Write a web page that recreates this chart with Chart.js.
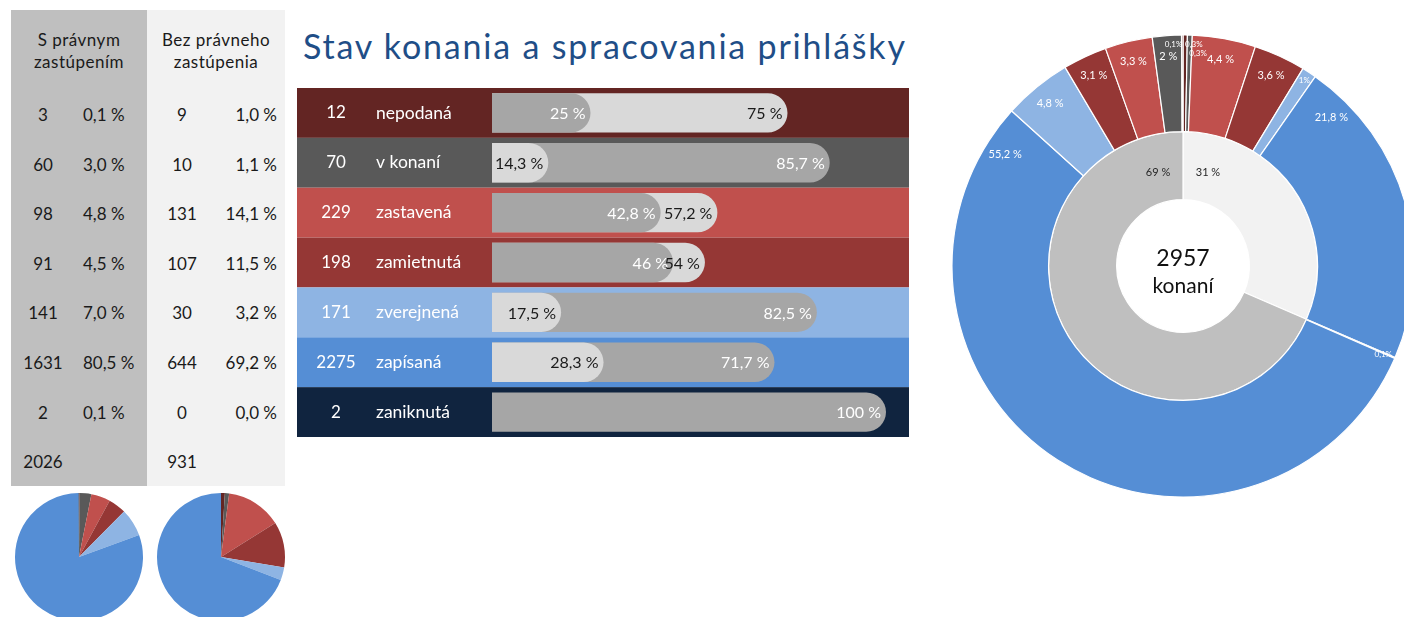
<!DOCTYPE html>
<html lang="sk">
<head>
<meta charset="utf-8">
<title>Stav konania a spracovania prihlášky</title>
<script src="https://cdn.jsdelivr.net/npm/chart.js@4.4.1/dist/chart.umd.min.js"></script>
<style>
  html, body { margin: 0; padding: 0; background: #fff; overflow: hidden; }
  body { position: relative; width: 1404px; height: 617px; font-family: Lato, "Noto Sans", sans-serif; }
  .abs { position: absolute; }
  #tbl { left: 11px; top: 10px; width: 274px; height: 476px; }
  .col { position: absolute; top: 0; height: 476px; }
  #colS { left: 0; width: 136px; background: #BFBFBF; }
  #colB { left: 136px; width: 138px; background: #F2F2F2; }
  .hd { position: absolute; top: 19px; width: 100%; text-align: center; font-size: 17px; letter-spacing: 0.5px; line-height: 22px; color: #1a1a1a; }
  .cell { position: absolute; font-size: 17px; line-height: 20px; color: #1a1a1a; white-space: nowrap; }
  #title { left: 303px; top: 26px; font-size: 34px; letter-spacing: 1.8px; line-height: 40px; color: #1F4E87; white-space: nowrap; }
</style>
</head>
<body>
<div id="tbl" class="abs">
  <div id="colS" class="col"><div class="hd">S právnym<br>zastúpením</div></div>
  <div id="colB" class="col"><div class="hd">Bez právneho<br>zastúpenia</div></div>
</div>
<div id="title" class="abs">Stav konania a spracovania prihlášky</div>
<canvas id="bars" class="abs" width="612" height="349" style="left:297px;top:88px"></canvas>
<canvas id="ring" class="abs" width="464" height="464" style="left:951px;top:34px"></canvas>
<canvas id="pieS" class="abs" width="130" height="130" style="left:14px;top:492px"></canvas>
<canvas id="pieB" class="abs" width="130" height="130" style="left:156px;top:492px"></canvas>

<script>
const statuses = ['nepodaná', 'v konaní', 'zastavená', 'zamietnutá', 'zverejnená', 'zapísaná', 'zaniknutá'];
const withLawyer = [3, 60, 98, 91, 141, 1631, 2];
const withoutLawyer = [9, 10, 131, 107, 30, 644, 0];
const statusColors = ['#632523', '#595959', '#C0504D', '#953735', '#8EB4E3', '#558ED5', '#10243F'];

const GRAY = '#A6A6A6';
const LIGHT = '#D9D9D9';
const FONT = 'Lato, "Noto Sans", sans-serif';

Chart.defaults.font.family = FONT;
Chart.defaults.animation = false;

const sum = a => a.reduce((x, y) => x + y, 0);

// comma decimals; trimmed drops ",0"
function pct(v, dec, trimmed) {
  let s = v.toFixed(dec).replace('.', ',');
  if (trimmed && s.endsWith(',0')) s = s.slice(0, -2);
  return s;
}

// ---- table ----
const totS = sum(withLawyer), totB = sum(withoutLawyer);
function addCell(parent, text, y, css) {
  const d = document.createElement('div');
  d.className = 'cell';
  d.textContent = text;
  d.style.top = (y - 10) + 'px';
  Object.assign(d.style, css);
  parent.appendChild(d);
}
const colS = document.getElementById('colS');
const colB = document.getElementById('colB');
for (let i = 0; i <= statuses.length; i++) {
  const y = 105 + i * 49.6;
  const last = i === statuses.length;
  const s = last ? totS : withLawyer[i];
  const b = last ? totB : withoutLawyer[i];
  addCell(colS, s, y, {left: '0px', width: '64px', textAlign: 'center'});
  addCell(colB, b, y, {left: '0px', width: '70px', textAlign: 'center'});
  if (!last) {
    addCell(colS, pct(s / totS * 100, 1) + ' %', y, {left: '72px'});
    addCell(colB, pct(b / totB * 100, 1) + ' %', y, {right: '8px', textAlign: 'right'});
  }
}

// ---- bars: share with / without lawyer per status, smaller one in front ----
const shareS = withLawyer.map((v, i) => v / (v + withoutLawyer[i]) * 100);
const shareB = withoutLawyer.map((v, i) => v / (v + withLawyer[i]) * 100);
const frontVal = shareS.map((s, i) => Math.min(s, shareB[i]));
const backVal = shareS.map((s, i) => Math.max(s, shareB[i]));
const frontCol = shareS.map((s, i) => s < shareB[i] ? GRAY : LIGHT);
const backCol = frontCol.map(c => c === GRAY ? LIGHT : GRAY);

const rowBands = {
  id: 'rowBands',
  beforeDraw(chart) {
    const {ctx, scales: {y}} = chart;
    const band = y.height / statuses.length;
    ctx.save();
    statuses.forEach((name, i) => {
      const cy = y.getPixelForValue(i);
      ctx.fillStyle = statusColors[i];
      ctx.fillRect(0, cy - band / 2, chart.width, band);
      ctx.fillStyle = '#fff';
      ctx.textBaseline = 'middle';
      ctx.font = '17px ' + FONT;
      ctx.textAlign = 'center';
      ctx.fillText(withLawyer[i] + withoutLawyer[i], 39, cy);
      ctx.textAlign = 'left';
      ctx.font = '17.5px ' + FONT;
      ctx.fillText(name, 79, cy);
    });
    ctx.restore();
  }
};

const barLabels = {
  id: 'barLabels',
  afterDatasetsDraw(chart) {
    const ctx = chart.ctx;
    ctx.save();
    ctx.font = '16px ' + FONT;
    ctx.textAlign = 'right';
    ctx.textBaseline = 'middle';
    chart.data.datasets.forEach((ds, di) => {
      chart.getDatasetMeta(di).data.forEach((bar, i) => {
        const v = ds.data[i];
        if (!v) return;
        ctx.fillStyle = ds.backgroundColor[i] === GRAY ? '#fff' : '#1a1a1a';
        ctx.fillText(pct(v, 1, true) + ' %', bar.x - 5, bar.y + 1);
      });
    });
    ctx.restore();
  }
};

new Chart(document.getElementById('bars'), {
  type: 'bar',
  data: {
    labels: statuses,
    datasets: [
      {data: frontVal, backgroundColor: frontCol, grouped: false, borderRadius: 20, borderSkipped: 'start'},
      {data: backVal, backgroundColor: backCol, grouped: false, borderRadius: 20, borderSkipped: 'start'}
    ]
  },
  options: {
    indexAxis: 'y',
    responsive: false,
    devicePixelRatio: 1,
    barPercentage: 0.79,
    categoryPercentage: 1,
    layout: {padding: {left: 195, right: 23, top: 0, bottom: 0}},
    scales: {
      x: {display: false, min: 0, max: 100},
      y: {display: false}
    },
    plugins: {legend: {display: false}, tooltip: {enabled: false}}
  },
  plugins: [rowBands, barLabels]
});

// ---- big ring: outer = without lawyer then with lawyer (reversed), inner = totals ----
const outerVals = [], outerCols = [];
withoutLawyer.forEach((v, i) => { if (v) { outerVals.push(v); outerCols.push(statusColors[i]); } });
for (let i = withLawyer.length - 1; i >= 0; i--) {
  if (withLawyer[i]) { outerVals.push(withLawyer[i]); outerCols.push(statusColors[i]); }
}
const innerVals = [totB, totS];

const ringLabels = {
  id: 'ringLabels',
  afterDatasetsDraw(chart) {
    const ctx = chart.ctx;
    const top = -Math.PI / 2;
    const visibleRight = 1404 - chart.canvas.offsetLeft - 12;
    ctx.save();
    ctx.textBaseline = 'middle';
    chart.data.datasets.forEach((ds, di) => {
      const meta = chart.getDatasetMeta(di);
      const total = sum(ds.data);
      const outer = di === 0;
      let prevTiny = false;
      meta.data.forEach((arc, i) => {
        const p = arc.getProps(['x', 'y', 'startAngle', 'endAngle', 'innerRadius', 'outerRadius']);
        const share = ds.data[i] / total * 100;
        let a = (p.startAngle + p.endAngle) / 2;
        if (share > 15) {
          const off = (outer ? 10 : 15) * Math.PI / 180;
          const dStart = p.startAngle - top;
          const dEnd = top + 2 * Math.PI - p.endAngle;
          a = dStart <= dEnd ? p.startAngle + off : p.endAngle - off;
        }
        let r, text, align = 'center';
        const small = outer && share < 1.5;
        if (outer) {
          ctx.fillStyle = '#fff';
          if (small) {
            ctx.font = '8px ' + FONT;
            text = pct(share, 1, true) + '%';
            r = p.outerRadius - 9;
            if (prevTiny) r -= 9;
            let deg = ((a - top) * 180 / Math.PI) % 360;
            if (deg > 180) deg -= 360;
            if (Math.abs(deg) < 8) align = deg < 0 ? 'right' : 'left';
          } else {
            ctx.font = '11px ' + FONT;
            text = pct(share, 1, true) + ' %';
            r = p.outerRadius - 21;
          }
        } else {
          ctx.fillStyle = '#262626';
          ctx.font = '11px ' + FONT;
          text = pct(share, 0, true) + ' %';
          r = (p.innerRadius + p.outerRadius) / 2 - 4;
        }
        prevTiny = small && share < 0.5;
        let tx = p.x + r * Math.cos(a);
        const ty = p.y + r * Math.sin(a);
        if (align === 'center') {
          const half = ctx.measureText(text).width / 2;
          if (tx + half > visibleRight) tx = visibleRight - half;
        }
        ctx.textAlign = align;
        ctx.fillText(text, tx, ty);
      });
    });
    // centre
    const m = chart.getDatasetMeta(1).data[0];
    ctx.fillStyle = '#111';
    ctx.textAlign = 'center';
    ctx.font = '23px ' + FONT;
    ctx.fillText(sum(innerVals), m.x, m.y - 7);
    ctx.font = '21px ' + FONT;
    ctx.fillText('konaní', m.x, m.y + 20);
    ctx.restore();
  }
};

new Chart(document.getElementById('ring'), {
  type: 'doughnut',
  data: {
    datasets: [
      {data: outerVals, backgroundColor: outerCols, borderColor: '#fff', borderWidth: 1.2, weight: 96.5},
      {data: innerVals, backgroundColor: ['#F2F2F2', '#BFBFBF'], borderColor: '#fff', borderWidth: 1.2, weight: 68}
    ]
  },
  options: {
    responsive: false,
    devicePixelRatio: 1,
    radius: 231,
    cutout: 66.5,
    hoverOffset: 0,
    plugins: {legend: {display: false}, tooltip: {enabled: false}}
  },
  plugins: [ringLabels]
});

// ---- small pies ----
function smallPie(id, values) {
  new Chart(document.getElementById(id), {
    type: 'pie',
    data: {labels: statuses, datasets: [{data: values, backgroundColor: statusColors, borderWidth: 0}]},
    options: {
      responsive: false,
      devicePixelRatio: 1,
      radius: 64,
      hoverOffset: 0,
      plugins: {legend: {display: false}, tooltip: {enabled: false}}
    }
  });
}
smallPie('pieS', withLawyer);
smallPie('pieB', withoutLawyer);
</script>
</body>
</html>
